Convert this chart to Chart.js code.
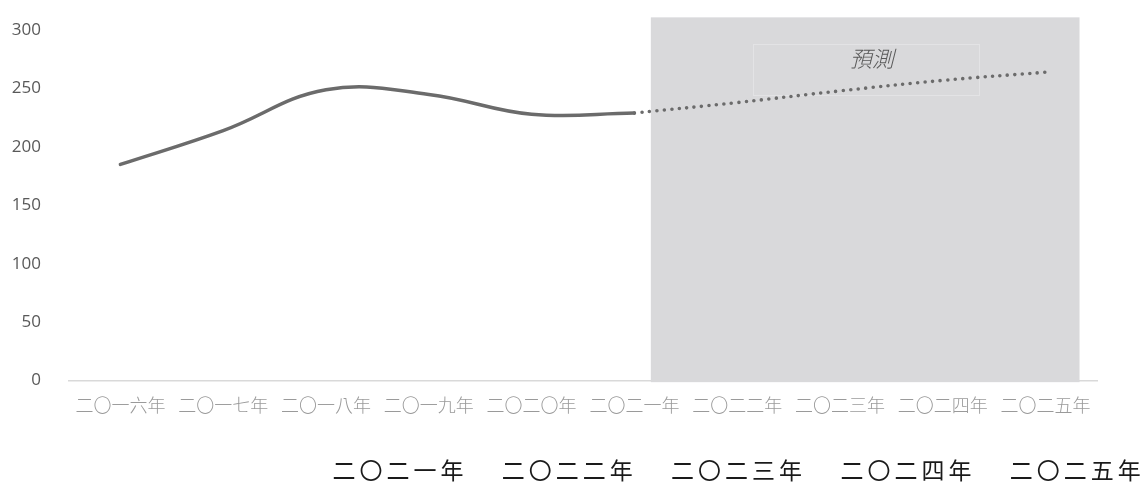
<!DOCTYPE html>
<html>
<head>
<meta charset="utf-8">
<script src="https://cdn.jsdelivr.net/npm/chart.js@4/dist/chart.umd.min.js"></script>
<style>
  html, body { margin: 0; padding: 0; background: #ffffff; }
  #wrap { width: 1145px; height: 487px; position: relative; }
</style>
</head>
<body>
<div id="wrap"><canvas id="c" width="1145" height="487"></canvas></div>
<script>
// Years on the category axis
const years = ['二〇一六年','二〇一七年','二〇一八年','二〇一九年','二〇二〇年',
               '二〇二一年','二〇二二年','二〇二三年','二〇二四年','二〇二五年'];
// Recorded values (solid line)
const actual = [185, 214, 249, 245, 228, 229, null, null, null, null];
// Projected values (dotted line), starting from the last recorded year
const forecast = [null, null, null, null, null, 229, 238, 248, 257, 264];
// Value axis ticks
const yTicks = [0, 50, 100, 150, 200, 250, 300];
// Caption of the shaded projection region
const forecastTitle = '預測';
// Year captions printed under the chart for the projection period
const forecastYears = ['二〇二一年','二〇二二年','二〇二三年','二〇二四年','二〇二五年'];

const LINE = '#6b6b6b';

// Shaded projection band with its caption box
const bandPlugin = {
  id: 'band',
  beforeDatasetsDraw(chart) {
    const { ctx, scales: { x, y } } = chart;
    const l = x.getPixelForValue(5.16), r = x.getPixelForValue(9.33);
    const t = y.getPixelForValue(311), b = y.getPixelForValue(-1.5);
    ctx.save();
    ctx.fillStyle = '#d9d9db';
    ctx.fillRect(l, t, r - l, b - t);
    // caption box
    const bl = x.getPixelForValue(6.15), br = x.getPixelForValue(8.35);
    const bt = y.getPixelForValue(288), bb = y.getPixelForValue(244);
    ctx.strokeStyle = '#e3e3e5';
    ctx.lineWidth = 1;
    ctx.strokeRect(Math.round(bl) + 0.5, Math.round(bt) + 0.5, Math.round(br - bl), Math.round(bb - bt));
    ctx.fillStyle = '#595959';
    ctx.font = 'italic 300 22px "Noto Sans CJK TC"';
    ctx.textAlign = 'center';
    ctx.textBaseline = 'middle';
    ctx.fillText(forecastTitle, (bl + br) / 2 + 6, bt + 14);
    ctx.restore();
  }
};

// Larger year captions below the axis for the projection period
const captionPlugin = {
  id: 'captions',
  afterDraw(chart) {
    const { ctx } = chart;
    ctx.save();
    ctx.fillStyle = '#1a1a1a';
    ctx.font = '23px "Noto Sans CJK TC"';
    ctx.letterSpacing = '4px';
    ctx.textAlign = 'center';
    ctx.textBaseline = 'middle';
    forecastYears.forEach((s, i) => {
      ctx.fillText(s, 400 + i * 169.3, 470);
    });
    ctx.restore();
  }
};

new Chart(document.getElementById('c'), {
  type: 'line',
  data: {
    labels: years,
    datasets: [
      {
        data: actual,
        borderColor: LINE,
        borderWidth: 3.5,
        tension: 0.4,
        pointRadius: 0,
        borderCapStyle: 'round',
        spanGaps: false
      },
      {
        data: forecast,
        borderColor: LINE,
        borderWidth: 3.6,
        borderDash: [0, 7.5],
        borderCapStyle: 'round',
        tension: 0.4,
        pointRadius: 0,
        spanGaps: false
      }
    ]
  },
  options: {
    responsive: false,
    animation: false,
    devicePixelRatio: 1,
    layout: { padding: { top: 14, right: 48, bottom: 65, left: 0 } },
    plugins: { legend: { display: false }, tooltip: { enabled: false } },
    scales: {
      x: {
        offset: true,
        grid: { display: false, offset: true },
        border: { display: true, color: '#d9d9d9', width: 1.5 },
        ticks: {
          color: '#9a9a9a',
          font: { family: '"Noto Sans CJK TC"', size: 18, weight: 300 },
          maxRotation: 0,
          autoSkip: false,
          padding: 6
        }
      },
      y: {
        min: 0,
        max: 300,
        afterBuildTicks(s) { s.ticks = yTicks.map(v => ({ value: v })); },
        afterFit(s) { s.width = 69; },
        grid: { display: false },
        border: { display: false },
        ticks: {
          color: '#595959',
          font: { family: '"Open Sans"', size: 17 },
          padding: 20
        }
      }
    }
  },
  plugins: [bandPlugin, captionPlugin]
});
</script>
</body>
</html>
